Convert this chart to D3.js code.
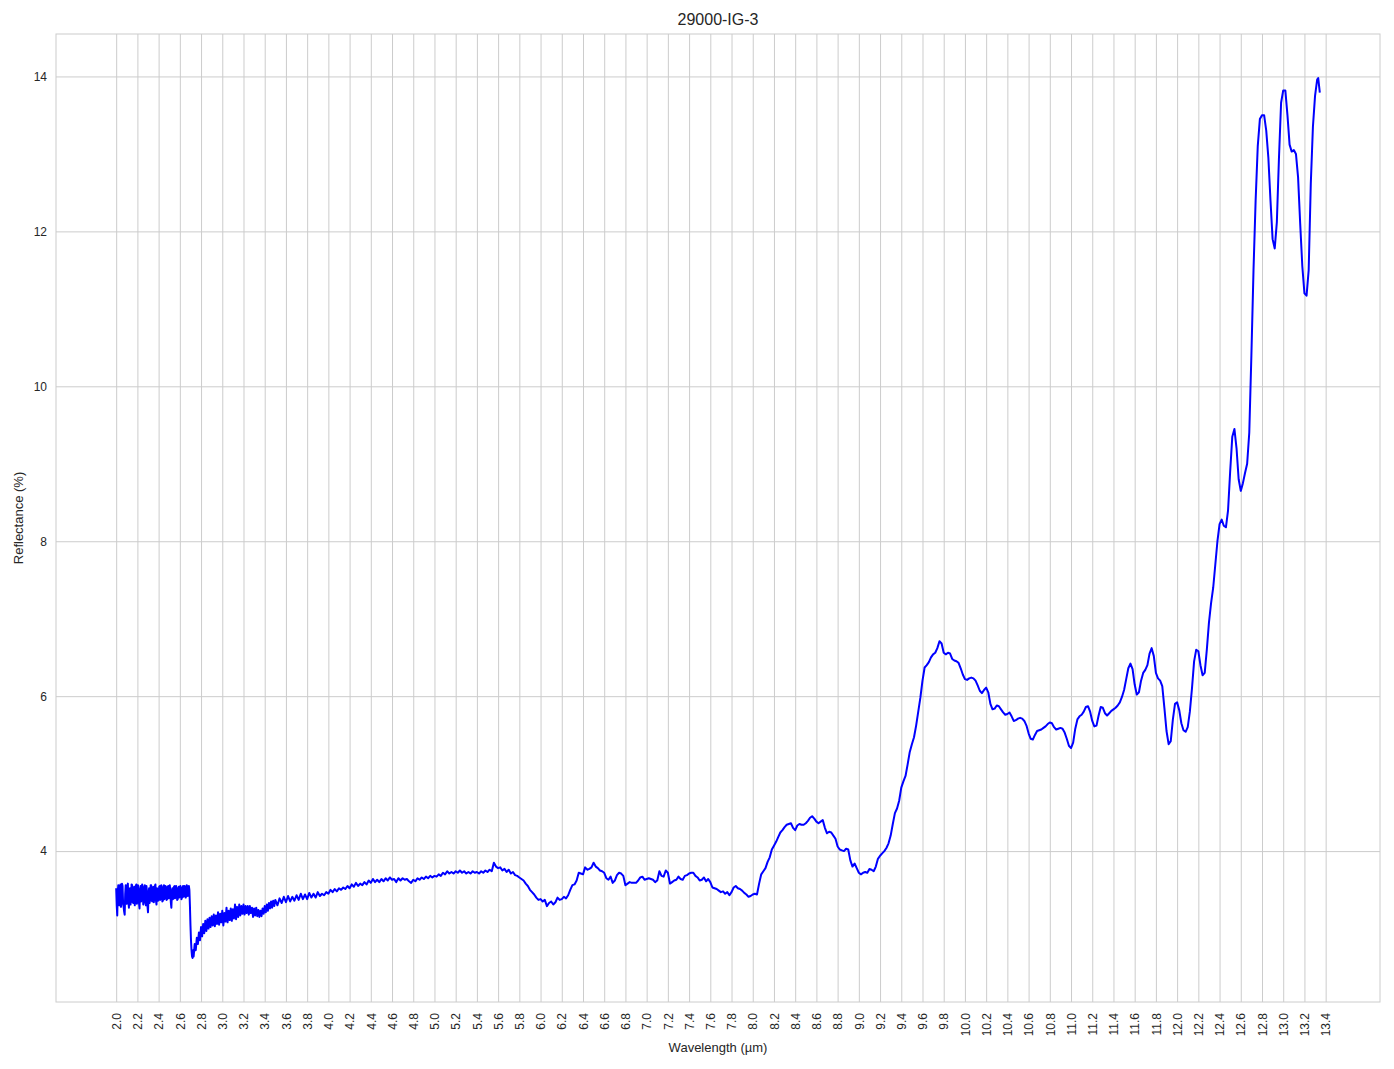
<!DOCTYPE html>
<html><head><meta charset="utf-8">
<script src="https://cdn.jsdelivr.net/npm/d3@7"></script>
<style>
body{margin:0;background:#fff}
text{font-family:"Liberation Sans",Arial,Helvetica,sans-serif;fill:#262626}
</style>
</head><body>
<svg id="chart" width="1394" height="1069"></svg>
<script>
const chartTitle = "29000-IG-3";
const xLabel = "Wavelength (µm)";
const yLabel = "Reflectance (%)";
const xTicks = [2.0,2.2,2.4,2.6,2.8,3.0,3.2,3.4,3.6,3.8,4.0,4.2,4.4,4.6,4.8,5.0,5.2,5.4,5.6,5.8,6.0,6.2,6.4,6.6,6.8,7.0,7.2,7.4,7.6,7.8,8.0,8.2,8.4,8.6,8.8,9.0,9.2,9.4,9.6,9.8,10.0,10.2,10.4,10.6,10.8,11.0,11.2,11.4,11.6,11.8,12.0,12.2,12.4,12.6,12.8,13.0,13.2,13.4];
const yTicks = [4,6,8,10,12,14];

// [wavelength (µm), reflectance (%)]
const spectrumNoisy = [
[2.000,3.52],[2.005,3.30],[2.010,3.17],[2.015,3.48],[2.020,3.56],[2.025,3.35],[2.030,3.30],[2.035,3.52],[2.040,3.57],[2.045,3.28],
[2.050,3.35],[2.055,3.58],[2.060,3.55],[2.065,3.33],[2.070,3.28],[2.075,3.22],[2.080,3.18],[2.085,3.45],[2.090,3.56],[2.095,3.38],
[2.100,3.32],[2.105,3.55],[2.110,3.58],[2.115,3.36],[2.120,3.27],[2.125,3.49],[2.130,3.52],[2.135,3.31],[2.140,3.38],[2.145,3.57],
[2.150,3.56],[2.155,3.34],[2.160,3.33],[2.165,3.51],[2.170,3.54],[2.175,3.30],[2.180,3.40],[2.185,3.55],[2.190,3.57],[2.195,3.32],
[2.200,3.36],[2.205,3.56],[2.210,3.50],[2.215,3.33],[2.220,3.26],[2.225,3.48],[2.230,3.55],[2.235,3.35],[2.240,3.40],[2.245,3.57],
[2.250,3.53],[2.255,3.31],[2.260,3.37],[2.265,3.52],[2.270,3.56],[2.275,3.34],[2.280,3.30],[2.285,3.55],[2.290,3.48],[2.295,3.29],
[2.300,3.21],[2.305,3.44],[2.310,3.52],[2.315,3.33],[2.320,3.39],[2.325,3.56],[2.330,3.56],[2.335,3.36],[2.340,3.35],[2.345,3.53],
[2.350,3.54],[2.355,3.34],[2.360,3.42],[2.365,3.55],[2.370,3.57],[2.375,3.36],[2.380,3.31],[2.385,3.52],[2.390,3.50],[2.395,3.36],
[2.400,3.38],[2.405,3.54],[2.410,3.55],[2.415,3.37],[2.420,3.40],[2.425,3.56],[2.430,3.52],[2.435,3.35],[2.440,3.36],[2.445,3.53],
[2.450,3.56],[2.455,3.38],[2.460,3.42],[2.465,3.55],[2.470,3.53],[2.475,3.37],[2.480,3.38],[2.485,3.54],[2.490,3.55],[2.495,3.39],
[2.500,3.41],[2.505,3.56],[2.510,3.50],[2.515,3.34],[2.520,3.27],[2.525,3.46],[2.530,3.52],[2.535,3.38],[2.540,3.40],[2.545,3.54],
[2.550,3.55],[2.555,3.39],[2.560,3.42],[2.565,3.55],[2.570,3.50],[2.575,3.37],[2.580,3.38],[2.585,3.52],[2.590,3.54],[2.595,3.40],
[2.600,3.43],[2.605,3.55],[2.610,3.51],[2.615,3.38],[2.620,3.40],[2.625,3.53],[2.630,3.55],[2.635,3.41],[2.640,3.44],[2.645,3.55],
[2.650,3.52],[2.655,3.40],[2.660,3.42],[2.665,3.56],[2.670,3.54],[2.675,3.42],[2.680,3.45],[2.685,3.55],[2.690,3.50],[2.695,3.30]
];

const spectrumShort = [
[2.70,3.05],[2.705,2.85],[2.71,2.72],[2.715,2.64],[2.72,2.62],[2.725,2.72],[2.73,2.64],[2.74,2.80],[2.75,2.72],[2.76,2.88],
[2.77,2.80],[2.78,2.95],[2.79,2.85],[2.80,3.02],[2.81,2.90],[2.82,3.06],[2.83,2.94],[2.84,3.10],[2.85,2.97],[2.86,3.12],
[2.87,3.00],[2.88,3.14],[2.89,3.02],[2.90,3.16],[2.91,3.04],[2.92,3.18],[2.93,3.03],[2.94,3.17],[2.95,3.06],[2.96,3.21],
[2.97,3.05],[2.98,3.19],[2.99,3.08],[3.00,3.23],[3.01,3.04],[3.02,3.20],[3.03,3.09],[3.04,3.27],[3.05,3.08],[3.06,3.23],
[3.07,3.11],[3.08,3.26],[3.09,3.10],[3.10,3.25],[3.11,3.13],[3.12,3.31],[3.13,3.12],[3.14,3.28],[3.15,3.15],[3.16,3.31],
[3.17,3.17],[3.18,3.29],[3.19,3.19],[3.20,3.31],[3.21,3.18],[3.22,3.29],[3.23,3.20],[3.24,3.29],[3.25,3.18],[3.26,3.29],
[3.27,3.20],[3.28,3.27],[3.29,3.15],[3.30,3.26],[3.31,3.17],[3.32,3.27],[3.33,3.16],[3.34,3.24],[3.35,3.15],[3.36,3.23],
[3.37,3.16],[3.38,3.26],[3.39,3.19],[3.40,3.29],[3.41,3.21],[3.42,3.31],[3.43,3.23],[3.44,3.33],[3.45,3.26],[3.46,3.35],
[3.47,3.27],[3.48,3.36],[3.49,3.29],[3.50,3.37]
];

const spectrumMid = [
[3.52,3.30],[3.54,3.39],[3.56,3.33],[3.58,3.41],[3.60,3.34],[3.62,3.42],[3.64,3.35],[3.66,3.41],[3.68,3.36],[3.70,3.43],
[3.72,3.37],[3.74,3.45],[3.76,3.38],[3.78,3.44],[3.80,3.38],[3.82,3.46],[3.84,3.40],[3.86,3.45],[3.88,3.40],[3.90,3.47],
[3.92,3.42],[3.94,3.45],[3.96,3.43],[3.98,3.47],[4.00,3.45],[4.02,3.50],[4.04,3.47],[4.06,3.51],[4.08,3.48],[4.10,3.52],
[4.12,3.50],[4.14,3.53],[4.16,3.51],[4.18,3.55],[4.20,3.52],[4.22,3.57],[4.24,3.54],[4.26,3.59],[4.28,3.55],[4.30,3.58],
[4.32,3.56],[4.34,3.60],[4.36,3.57],[4.38,3.62],[4.40,3.59],[4.42,3.64],[4.44,3.60],[4.46,3.63],[4.48,3.60],[4.50,3.64],
[4.52,3.61],[4.54,3.65],[4.56,3.62],[4.58,3.66],[4.60,3.63],[4.62,3.64],[4.64,3.60],[4.66,3.65],[4.68,3.62],[4.70,3.65],
[4.72,3.63],[4.74,3.64],[4.76,3.61],[4.78,3.59],[4.80,3.63],[4.82,3.61],[4.84,3.65],[4.86,3.63],[4.88,3.66],[4.90,3.64],
[4.92,3.67],[4.94,3.65],[4.96,3.68],[4.98,3.66],[5.00,3.68],[5.02,3.67],[5.04,3.70],[5.06,3.68],[5.08,3.72],[5.10,3.70],
[5.12,3.74],[5.14,3.71],[5.16,3.73],[5.18,3.71],[5.20,3.74],[5.22,3.72],[5.24,3.75],[5.26,3.72],[5.28,3.74],[5.30,3.71],
[5.32,3.73],[5.34,3.71],[5.36,3.74],[5.38,3.72],[5.40,3.73],[5.42,3.71],[5.44,3.74],[5.46,3.72],[5.48,3.75],[5.50,3.73],
[5.52,3.76],[5.54,3.74],[5.56,3.85],[5.58,3.80],[5.60,3.78],[5.62,3.79],[5.64,3.75],[5.66,3.77],[5.68,3.73],[5.70,3.76],
[5.72,3.71],[5.74,3.73],[5.76,3.69],[5.78,3.68],[5.80,3.66],[5.82,3.64],[5.84,3.62],[5.86,3.58],[5.88,3.55],[5.90,3.50],
[5.92,3.47],[5.94,3.44],[5.96,3.40],[5.98,3.37],[6.00,3.38],[6.02,3.35],[6.04,3.37],[6.06,3.29],[6.08,3.33],[6.10,3.35],
[6.12,3.31],[6.14,3.34],[6.16,3.40],[6.18,3.37],[6.20,3.38],[6.22,3.41],[6.24,3.39],[6.26,3.43],[6.28,3.50],[6.30,3.56],
[6.32,3.57],[6.34,3.62],[6.36,3.72],[6.38,3.71],[6.40,3.70],[6.42,3.79],[6.44,3.76],[6.46,3.77],[6.48,3.79],[6.50,3.85],
[6.52,3.80],[6.54,3.78],[6.56,3.75],[6.58,3.74],[6.60,3.72],[6.62,3.65],[6.64,3.63],[6.66,3.67],[6.68,3.59],[6.70,3.62],
[6.72,3.69],[6.74,3.72],[6.76,3.71],[6.78,3.68],[6.80,3.56],[6.82,3.58],[6.84,3.60],[6.86,3.59],[6.88,3.59],[6.90,3.59],
[6.92,3.62],[6.94,3.66],[6.96,3.67],[6.98,3.63],[7.00,3.64],[7.02,3.65],[7.04,3.64],[7.06,3.63],[7.08,3.60],[7.10,3.62],
[7.12,3.74],[7.14,3.68],[7.16,3.67],[7.18,3.75],[7.20,3.72],[7.22,3.58],[7.24,3.60],[7.26,3.62],[7.28,3.63],[7.30,3.67],
[7.32,3.64],[7.34,3.63],[7.36,3.68],[7.38,3.69],[7.40,3.71],[7.42,3.72],[7.44,3.72],[7.46,3.68],[7.48,3.66],[7.50,3.62],
[7.52,3.63],[7.54,3.66],[7.56,3.61],[7.58,3.64],[7.60,3.60],[7.62,3.53],[7.64,3.52],[7.66,3.51],[7.68,3.49],[7.70,3.47],
[7.72,3.48],[7.74,3.45],[7.76,3.47],[7.78,3.43],[7.80,3.47],[7.82,3.53],[7.84,3.55],[7.86,3.52],[7.88,3.51],[7.90,3.49],
[7.92,3.46],[7.94,3.44],[7.96,3.41],[7.98,3.42],[8.00,3.44],[8.02,3.45],[8.04,3.44]
];

const spectrumLong = [
[8.06,3.58],[8.08,3.70],[8.10,3.74],[8.12,3.78],[8.14,3.86],[8.16,3.92],[8.18,4.02],[8.20,4.07],[8.22,4.12],[8.24,4.18],
[8.26,4.24],[8.28,4.27],[8.30,4.31],[8.32,4.34],[8.34,4.35],[8.36,4.36],[8.38,4.30],[8.40,4.27],[8.42,4.33],[8.44,4.35],
[8.46,4.34],[8.48,4.34],[8.50,4.36],[8.52,4.39],[8.54,4.43],[8.56,4.45],[8.58,4.42],[8.60,4.38],[8.62,4.36],[8.64,4.38],
[8.66,4.40],[8.68,4.30],[8.70,4.23],[8.72,4.25],[8.74,4.24],[8.76,4.20],[8.78,4.16],[8.80,4.06],[8.82,4.02],[8.84,4.01],
[8.86,4.00],[8.88,4.03],[8.90,4.02],[8.92,3.88],[8.94,3.80],[8.96,3.84],[8.98,3.78],[9.00,3.72],[9.02,3.70],[9.04,3.72],
[9.06,3.73],[9.08,3.72],[9.10,3.77],[9.12,3.76],[9.14,3.74],[9.16,3.80],[9.18,3.90],[9.20,3.94],[9.22,3.97],[9.24,4.00],
[9.26,4.04],[9.28,4.10],[9.30,4.20],[9.32,4.35],[9.34,4.49],[9.36,4.55],[9.38,4.65],[9.40,4.82],[9.42,4.90],[9.44,4.97],
[9.46,5.12],[9.48,5.28],[9.50,5.38],[9.52,5.47],[9.54,5.62],[9.56,5.80],[9.58,5.98],[9.60,6.20],[9.62,6.37],[9.64,6.40],
[9.66,6.44],[9.68,6.50],[9.70,6.54],[9.72,6.56],[9.74,6.62],[9.76,6.71],[9.78,6.68],[9.80,6.56],[9.82,6.54],[9.84,6.56],
[9.86,6.55],[9.88,6.48],[9.90,6.46],[9.92,6.45],[9.94,6.43],[9.96,6.36],[9.98,6.28],[10.00,6.22],[10.02,6.21],[10.04,6.23],
[10.06,6.24],[10.08,6.23],[10.10,6.20],[10.12,6.14],[10.14,6.07],[10.16,6.04],[10.18,6.08],[10.20,6.11],[10.22,6.05],[10.24,5.90],
[10.26,5.83],[10.28,5.84],[10.30,5.88],[10.32,5.87],[10.34,5.83],[10.36,5.79],[10.38,5.76],[10.40,5.77],[10.42,5.79],[10.44,5.74],
[10.46,5.68],[10.48,5.69],[10.50,5.71],[10.52,5.72],[10.54,5.71],[10.56,5.68],[10.58,5.62],[10.60,5.52],[10.62,5.45],[10.64,5.44],
[10.66,5.50],[10.68,5.55],[10.70,5.56],[10.72,5.57],[10.74,5.59],[10.76,5.61],[10.78,5.64],[10.80,5.66],[10.82,5.65],[10.84,5.60],
[10.86,5.57],[10.88,5.58],[10.90,5.59],[10.92,5.58],[10.94,5.53],[10.96,5.45],[10.98,5.36],[11.00,5.33],[11.02,5.40],[11.04,5.58],
[11.06,5.70],[11.08,5.74],[11.10,5.76],[11.12,5.80],[11.14,5.86],[11.16,5.87],[11.18,5.80],[11.20,5.68],[11.22,5.61],[11.24,5.62],
[11.26,5.75],[11.28,5.86],[11.30,5.85],[11.32,5.78],[11.34,5.75],[11.36,5.78],[11.38,5.81],[11.40,5.83],[11.42,5.85],[11.44,5.88],
[11.46,5.92],[11.48,5.99],[11.50,6.08],[11.52,6.22],[11.54,6.36],[11.56,6.42],[11.58,6.35],[11.60,6.15],[11.62,6.02],[11.64,6.05],
[11.66,6.20],[11.68,6.30],[11.70,6.34],[11.72,6.40],[11.74,6.55],[11.76,6.62],[11.78,6.52],[11.80,6.30],[11.82,6.23],[11.84,6.20],
[11.86,6.13],[11.88,5.85],[11.90,5.55],[11.92,5.38],[11.94,5.42],[11.96,5.70],[11.98,5.90],[12.00,5.92],[12.02,5.82],[12.04,5.65],
[12.06,5.56],[12.08,5.54],[12.10,5.60],[12.12,5.80],[12.14,6.10],[12.16,6.45],[12.18,6.60],[12.20,6.58],[12.22,6.40],[12.24,6.27],
[12.26,6.30],[12.28,6.60],[12.30,6.95],[12.32,7.20],[12.34,7.40],[12.36,7.70],[12.38,8.00],[12.40,8.22],[12.42,8.28],[12.44,8.20],
[12.46,8.18],[12.48,8.40],[12.50,8.90],[12.52,9.35],[12.54,9.45],[12.56,9.20],[12.58,8.80],[12.60,8.65],[12.62,8.75],[12.64,8.88],
[12.66,9.00],[12.68,9.40],[12.70,10.40],[12.72,11.50],[12.74,12.40],[12.76,13.10],[12.78,13.45],[12.80,13.50],[12.82,13.50],[12.84,13.30],
[12.86,12.95],[12.88,12.40],[12.90,11.90],[12.92,11.78],[12.94,12.12],[12.96,12.95],[12.98,13.66],[13.00,13.82],[13.02,13.82],[13.04,13.50],
[13.06,13.12],[13.08,13.03],[13.10,13.05],[13.12,13.00],[13.14,12.70],[13.16,12.10],[13.18,11.55],[13.20,11.20],[13.22,11.17],[13.24,11.50],
[13.26,12.62],[13.28,13.35],[13.30,13.75],[13.32,13.96],[13.33,13.98],[13.345,13.79]
];

const spectrum = [...spectrumNoisy, ...spectrumShort, ...spectrumMid, ...spectrumLong];

const plot = {left: 56, top: 34, right: 1380, bottom: 1002};
const svg = d3.select("#chart");

const xExt = d3.extent(spectrum, d => d[0]);
const yExt = d3.extent(spectrum, d => d[1]);
const xPad = (xExt[1] - xExt[0]) * 0.05, yPad = (yExt[1] - yExt[0]) * 0.05;
const x = d3.scaleLinear().domain([xExt[0] - xPad, xExt[1] + xPad]).range([plot.left, plot.right]);
const y = d3.scaleLinear().domain([yExt[0] - yPad, yExt[1] + yPad]).range([plot.bottom, plot.top]);

const gridColor = "#cccccc";
const xAxisGrid = d3.axisBottom(x).tickValues(xTicks).tickSize(-(plot.bottom - plot.top)).tickFormat("");
svg.append("g").attr("transform", `translate(0,${plot.bottom})`).call(xAxisGrid)
  .call(g => g.select(".domain").remove())
  .call(g => g.selectAll("line").attr("stroke", gridColor).attr("stroke-width", 1));
const yAxisGrid = d3.axisLeft(y).tickValues(yTicks).tickSize(-(plot.right - plot.left)).tickFormat("");
svg.append("g").attr("transform", `translate(${plot.left},0)`).call(yAxisGrid)
  .call(g => g.select(".domain").remove())
  .call(g => g.selectAll("line").attr("stroke", gridColor).attr("stroke-width", 1));

svg.append("rect").attr("x", plot.left).attr("y", plot.top)
  .attr("width", plot.right - plot.left).attr("height", plot.bottom - plot.top)
  .attr("fill", "none").attr("stroke", gridColor).attr("stroke-width", 1);

const line = d3.line().x(d => x(d[0])).y(d => y(d[1]));
svg.append("path").datum(spectrum).attr("d", line)
  .attr("fill", "none").attr("stroke", "#0000ff").attr("stroke-width", 2).attr("stroke-linejoin", "round");

const xAxis = d3.axisBottom(x).tickValues(xTicks).tickSize(0).tickPadding(0).tickFormat(d3.format(".1f"));
svg.append("g").attr("transform", `translate(0,${plot.bottom})`).call(xAxis)
  .call(g => g.select(".domain").remove())
  .call(g => g.selectAll("text")
    .attr("transform", "rotate(-90)")
    .attr("x", -11).attr("y", 0).attr("dy", "0.35em")
    .attr("text-anchor", "end")
    .style("font-size", "12px").attr("fill", "#262626"));

const yAxis = d3.axisLeft(y).tickValues(yTicks).tickSize(0).tickPadding(9).tickFormat(d3.format("d"));
svg.append("g").attr("transform", `translate(${plot.left},0)`).call(yAxis)
  .call(g => g.select(".domain").remove())
  .call(g => g.selectAll("text").style("font-size", "12px").attr("fill", "#262626"));

const cx = (plot.left + plot.right) / 2;
svg.append("text").attr("x", cx).attr("y", 25).attr("text-anchor", "middle")
  .style("font-size", "16px").text(chartTitle);
svg.append("text").attr("x", cx).attr("y", 1052).attr("text-anchor", "middle")
  .style("font-size", "13px").text(xLabel);
svg.append("text").attr("transform", `translate(23,${(plot.top + plot.bottom) / 2}) rotate(-90)`)
  .attr("text-anchor", "middle").style("font-size", "13px").text(yLabel);
</script>
</body></html>
